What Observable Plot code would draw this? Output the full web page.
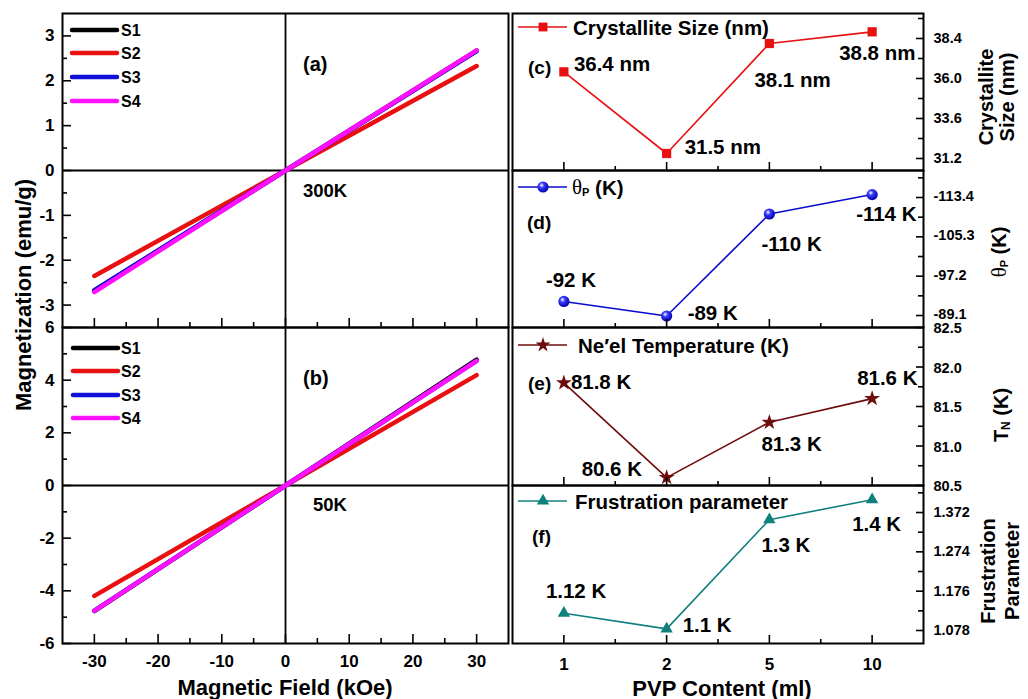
<!DOCTYPE html>
<html>
<head>
<meta charset="utf-8">
<script src="https://cdn.jsdelivr.net/npm/d3@7"></script>
<script src="https://cdn.jsdelivr.net/npm/@observablehq/plot@0.6"></script>
<style>
  body { margin: 0; background: #ffffff; }
  #chart { position: relative; width: 1028px; height: 699px; background: #ffffff; }
</style>
</head>
<body>
<div id="chart"></div>
<script>
// ---------------- DATA ----------------
// M-H loops (field in kOe, magnetization in emu/g)
const field = [-30, 0, 30];
const samples = ["S1", "S2", "S3", "S4"];
const m300S1 = [-2.68, 0, 2.67];
const m300S2 = [-2.35, 0, 2.33];
const m300S3 = [-2.67, 0, 2.66];
const m300S4 = [-2.71, 0, 2.68];
const m50S1 = [-4.77, 0, 4.78];
const m50S2 = [-4.19, 0, 4.19];
const m50S3 = [-4.75, 0, 4.73];
const m50S4 = [-4.76, 0, 4.73];

// PVP content panels
const pvp = ["1", "2", "5", "10"];
const crystalliteSize = [36.4, 31.5, 38.1, 38.8];
const crystalliteLabels = ["36.4 nm", "31.5 nm", "38.1 nm", "38.8 nm"];
const thetaP = [-92, -89, -110, -114];
const thetaLabels = ["-92 K", "-89 K", "-110 K", "-114 K"];
const neelT = [81.8, 80.6, 81.3, 81.6];
const neelLabels = ["81.8 K", "80.6 K", "81.3 K", "81.6 K"];
const frustration = [1.121, 1.082, 1.354, 1.404];
const frustLabels = ["1.12 K", "1.1 K", "1.3 K", "1.4 K"];

// tick values
const hTicks = [-30, -20, -10, 0, 10, 20, 30];
const hMinor = [-25, -15, -5, 5, 15, 25];
const aTicks = [-3, -2, -1, 0, 1, 2, 3];
const aMinor = [-2.5, -1.5, -0.5, 0.5, 1.5, 2.5];
const bTicks = [-6, -4, -2, 0, 2, 4, 6];
const bMinor = [-5, -3, -1, 1, 3, 5];
const pTicks = [0, 1, 2, 3];
const pMinor = [0.5, 1.5, 2.5];
const cTicks = [31.2, 33.6, 36.0, 38.4];
const cMinor = [32.4, 34.8, 37.2, 39.6];
const dTicks = [-113.4, -105.3, -97.2, -89.1];
const dMinor = [-117.45, -109.35, -101.25, -93.15];
const eTicks = [80.5, 81.0, 81.5, 82.0, 82.5];
const eMinor = [80.75, 81.25, 81.75, 82.25];
const fTicks = [1.078, 1.176, 1.274, 1.372];
const fMinor = [1.127, 1.225, 1.323, 1.421];

// ---------------- LAYOUT / STYLE ----------------
const FONT = '"Liberation Sans", Arial, Helvetica, sans-serif';
const sampleColors = ["#000000", "#e81010", "#1010d8", "#ff10ff"];
const root = document.getElementById("chart");

const overlay = d3.select(root).append("svg")
  .attr("width", 1028).attr("height", 699)
  .style("position", "absolute").style("left", "0px").style("top", "0px")
  .attr("font-family", FONT).attr("font-weight", "bold");

function addPanel(left, top, width, height, opts, marks) {
  const svg = Plot.plot({
    width, height,
    marginTop: 0, marginRight: 0, marginBottom: 0, marginLeft: 0,
    style: { background: "transparent", overflow: "visible", fontFamily: FONT, color: "black" },
    ...opts,
    marks
  });
  svg.style.position = "absolute";
  svg.style.left = left + "px";
  svg.style.top = top + "px";
  svg.style.overflow = "visible";
  root.appendChild(svg);
  return svg;
}

function overlayGroup(svg) {
  return d3.select(svg).append("g")
    .attr("font-family", FONT).attr("font-weight", "bold")
    .attr("text-anchor", "start").attr("fill", "black");
}

// ---------- Left panels (a) and (b) ----------
function mhPanel(top, height, yDomain, yTicks, yMinor, series, showX, legendYs, lx1, lx2, label, temp, tempX) {
  const W = 446;
  const lines = series.map((arr, k) =>
    Plot.line(field.map((h, i) => ({ h, m: arr[i] })), {
      x: "h", y: "m", stroke: sampleColors[k], strokeWidth: 4.5, strokeLinecap: "round"
    }));
  const marks = [
    Plot.ruleX([0], { strokeWidth: 1.8 }),
    Plot.ruleY([0], { strokeWidth: 1.8 }),
    ...lines,
    Plot.tickX(hTicks, { x: d => d, insetTop: height - 9, strokeWidth: 1.6 }),
    Plot.tickX(hMinor, { x: d => d, insetTop: height - 5, strokeWidth: 1.6 }),
    Plot.tickY(yTicks, { y: d => d, insetRight: W - 9, strokeWidth: 1.6 }),
    Plot.tickY(yMinor, { y: d => d, insetRight: W - 5, strokeWidth: 1.6 }),
    Plot.axisY(yTicks, { anchor: "left", tickSize: 0, tickPadding: 8, fontSize: 17, fontWeight: "bold", tickFormat: d => String(d), label: null }),
    Plot.frame({ strokeWidth: 2 })
  ];
  if (showX) marks.push(Plot.axisX(hTicks, { anchor: "bottom", tickSize: 0, tickPadding: 11, fontSize: 17, fontWeight: "bold", tickFormat: d => String(d), label: null }));
  const svg = addPanel(62, top, W, height, {
    x: { domain: [-35, 35], axis: null },
    y: { domain: yDomain, axis: null }
  }, marks);
  const g = overlayGroup(svg);
  samples.forEach((s, k) => {
    g.append("line").attr("x1", lx1).attr("x2", lx2).attr("y1", legendYs[k]).attr("y2", legendYs[k])
      .attr("stroke", sampleColors[k]).attr("stroke-width", 4.5).attr("stroke-linecap", "round");
    g.append("text").attr("x", 59).attr("y", legendYs[k]).attr("dominant-baseline", "central")
      .attr("font-size", 16).text(s);
  });
  g.append("text").attr("x", 241).attr("y", label[1]).attr("dominant-baseline", "central").attr("font-size", 20).text(label[0]);
  g.append("text").attr("x", tempX).attr("y", 177).attr("dominant-baseline", "central").attr("font-size", 18.5).text(temp);
}

mhPanel(13, 314, [-3.5, 3.5], aTicks, aMinor, [m300S1, m300S2, m300S3, m300S4], false, [17, 40, 64, 88], 10, 55, ["(a)", 51], "300K", 241);
mhPanel(327, 316, [-6, 6], bTicks, bMinor, [m50S1, m50S2, m50S3, m50S4], true, [21, 44, 68, 91], 11, 56, ["(b)", 51], "50K", 251);

// ---------- Right panels (c)-(f) ----------
const idx = [0, 1, 2, 3];
function rightPanel(cfg) {
  const W = 411, Hh = cfg.height;
  const marks = [
    Plot.line(idx, { x: i => i, y: i => cfg.values[i], stroke: cfg.color, strokeWidth: 1.6 }),
    Plot.dot(idx, { x: i => i, y: i => cfg.values[i], symbol: cfg.symbol, r: cfg.r, fill: cfg.fill, stroke: "none" }),
    ...idx.map(i => Plot.text([i], {
      x: d => d, y: d => cfg.values[d], text: d => cfg.labels[d],
      dx: cfg.offsets[i][0], dy: cfg.offsets[i][1], textAnchor: "start",
      fontSize: 20.5, fontWeight: "bold", fill: "black"
    })),
    Plot.tickX(pTicks, { x: d => d, insetTop: Hh - 8, strokeWidth: 1.6 }),
    Plot.tickX(pMinor, { x: d => d, insetTop: Hh - 4, strokeWidth: 1.6 }),
    Plot.tickY(cfg.ticks, { y: d => d, insetLeft: W - 7, strokeWidth: 1.6 }),
    Plot.tickY(cfg.minor, { y: d => d, insetLeft: W - 5, strokeWidth: 1.6 }),
    Plot.axisY(cfg.ticks, { anchor: "right", tickSize: 0, tickPadding: 10, fontSize: 14.5, fontWeight: "bold", tickFormat: cfg.fmt, label: null, dy: cfg.tickDy || 0 }),
    Plot.frame({ strokeWidth: 2 })
  ];
  if (cfg.showX) marks.push(Plot.axisX(pTicks, { anchor: "bottom", tickSize: 0, tickPadding: 14, fontSize: 17, fontWeight: "bold", tickFormat: i => pvp[i], label: null }));
  const svg = addPanel(512, cfg.top, W, Hh, {
    x: { domain: [-0.5, 3.5], axis: null },
    y: { domain: cfg.domain, axis: null }
  }, marks);
  const g = overlayGroup(svg);
  g.append("line").attr("x1", 6).attr("x2", 55).attr("y1", cfg.legY).attr("y2", cfg.legY)
    .attr("stroke", cfg.color).attr("stroke-width", 1.6);
  cfg.legMarker(g, 31, cfg.legY);
  cfg.legText(g.append("text").attr("x", cfg.legX).attr("y", cfg.legY).attr("dominant-baseline", "central").attr("font-size", 20.5));
  g.append("text").attr("x", cfg.panel[1]).attr("y", cfg.panel[2]).attr("dominant-baseline", "central")
    .attr("font-size", 19).text(cfg.panel[0]);
  return svg;
}

function symbolMarker(type, size, fill) {
  return (g, x, y) => g.append("path").attr("d", d3.symbol(type, size)()).attr("fill", fill)
    .attr("transform", `translate(${x},${y})`);
}

// sphere gradient
const defsSvg = d3.select(root).append("svg").attr("width", 0).attr("height", 0).style("position", "absolute");
const grad = defsSvg.append("defs").append("radialGradient").attr("id", "sphere")
  .attr("cx", "38%").attr("cy", "35%").attr("r", "65%");
grad.append("stop").attr("offset", "0%").attr("stop-color", "#ffffff");
grad.append("stop").attr("offset", "35%").attr("stop-color", "#3a3aff");
grad.append("stop").attr("offset", "100%").attr("stop-color", "#0000a8");

const cRed = "#e81010", dBlue = "#0a0ad0", eBrown = "#6e0c0c", fTeal = "#10807c";

rightPanel({
  top: 13, height: 157, domain: [30.48, 39.9], ticks: cTicks, minor: cMinor, fmt: d => d.toFixed(1),
  values: crystalliteSize, labels: crystalliteLabels,
  offsets: [[10, -7], [18, -6], [-15, 37], [-33, 22]],
  color: cRed, symbol: "square", r: 5.2, fill: cRed, showX: false,
  legY: 14, legX: 61, legMarker: symbolMarker(d3.symbolSquare, 78, cRed),
  legText: t => t.text("Crystallite Size (nm)"),
  panel: ["(c)", 16, 54]
});

rightPanel({
  top: 170, height: 157, domain: [-86.63, -118.96], ticks: dTicks, minor: dMinor, fmt: d => d.toFixed(1),
  values: thetaP, labels: thetaLabels, tickDy: -1,
  offsets: [[-18, -21], [21, -3], [-8, 30], [-16, 20]],
  color: dBlue, symbol: "circle", r: 5.6, fill: "url(#sphere)", showX: false,
  legY: 17, legX: 60,
  legMarker: (g, x, y) => g.append("circle").attr("cx", x).attr("cy", y).attr("r", 5.6).attr("fill", "url(#sphere)"),
  legText: t => {
    t.append("tspan").attr("font-family", '"Liberation Serif", serif').attr("font-weight", "normal").attr("font-size", 21).text("θ");
    t.append("tspan").attr("font-size", 11).attr("dy", 5).text("P");
    t.append("tspan").attr("font-size", 20.5).attr("dy", -5).text(" (K)");
  },
  panel: ["(d)", 15, 52]
});

rightPanel({
  top: 327, height: 158, domain: [80.5, 82.5], ticks: eTicks, minor: eMinor, fmt: d => d.toFixed(1),
  values: neelT, labels: neelLabels, tickDy: 1,
  offsets: [[7, 0], [-85, -8], [-8, 22], [-15, -20]],
  color: eBrown, symbol: "star", r: 5, fill: eBrown, showX: false,
  legY: 18, legX: 66, legMarker: symbolMarker(d3.symbolStar, 70, eBrown),
  legText: t => t.text("Ne\u2032el Temperature (K)"),
  panel: ["(e)", 16, 56]
});

rightPanel({
  top: 485, height: 158, domain: [1.0456, 1.4393], ticks: fTicks, minor: fMinor, fmt: d => d.toFixed(3),
  values: frustration, labels: frustLabels,
  offsets: [[-18, -22], [16, -3], [-8, 26], [-20, 25]],
  color: fTeal, symbol: "triangle", r: 4.6, fill: fTeal, showX: true,
  legY: 16, legX: 63, legMarker: symbolMarker(d3.symbolTriangle, 66, fTeal),
  legText: t => t.text("Frustration parameter"),
  panel: ["(f)", 20, 51]
});

// ---------- Axis titles ----------
function rotText(x, y, size) {
  return overlay.append("text").attr("transform", `translate(${x},${y}) rotate(-90)`)
    .attr("text-anchor", "middle").attr("dominant-baseline", "central").attr("font-size", size);
}
rotText(23, 295, 22).text("Magnetization (emu/g)");
overlay.append("text").attr("x", 285).attr("y", 687).attr("text-anchor", "middle").attr("dominant-baseline", "central")
  .attr("font-size", 22).text("Magnetic Field (kOe)");
overlay.append("text").attr("x", 722).attr("y", 688).attr("text-anchor", "middle").attr("dominant-baseline", "central")
  .attr("font-size", 22).text("PVP Content (ml)");
rotText(986, 97, 20).text("Crystallite");
rotText(1007, 97, 20).text("Size (nm)");
{
  const t = rotText(999, 252, 20);
  t.append("tspan").attr("font-family", '"Liberation Serif", serif').attr("font-weight", "normal").attr("font-size", 21).text("θ");
  t.append("tspan").attr("font-size", 11).attr("dy", 5).text("P");
  t.append("tspan").attr("font-size", 20).attr("dy", -5).text(" (K)");
}
{
  const t = rotText(1001, 415, 20);
  t.append("tspan").text("T");
  t.append("tspan").attr("font-size", 12).attr("dy", 5).text("N");
  t.append("tspan").attr("dy", -5).text(" (K)");
}
rotText(988, 571, 20).text("Frustration");
rotText(1012, 571, 20).text("Parameter");
</script>
</body>
</html>
